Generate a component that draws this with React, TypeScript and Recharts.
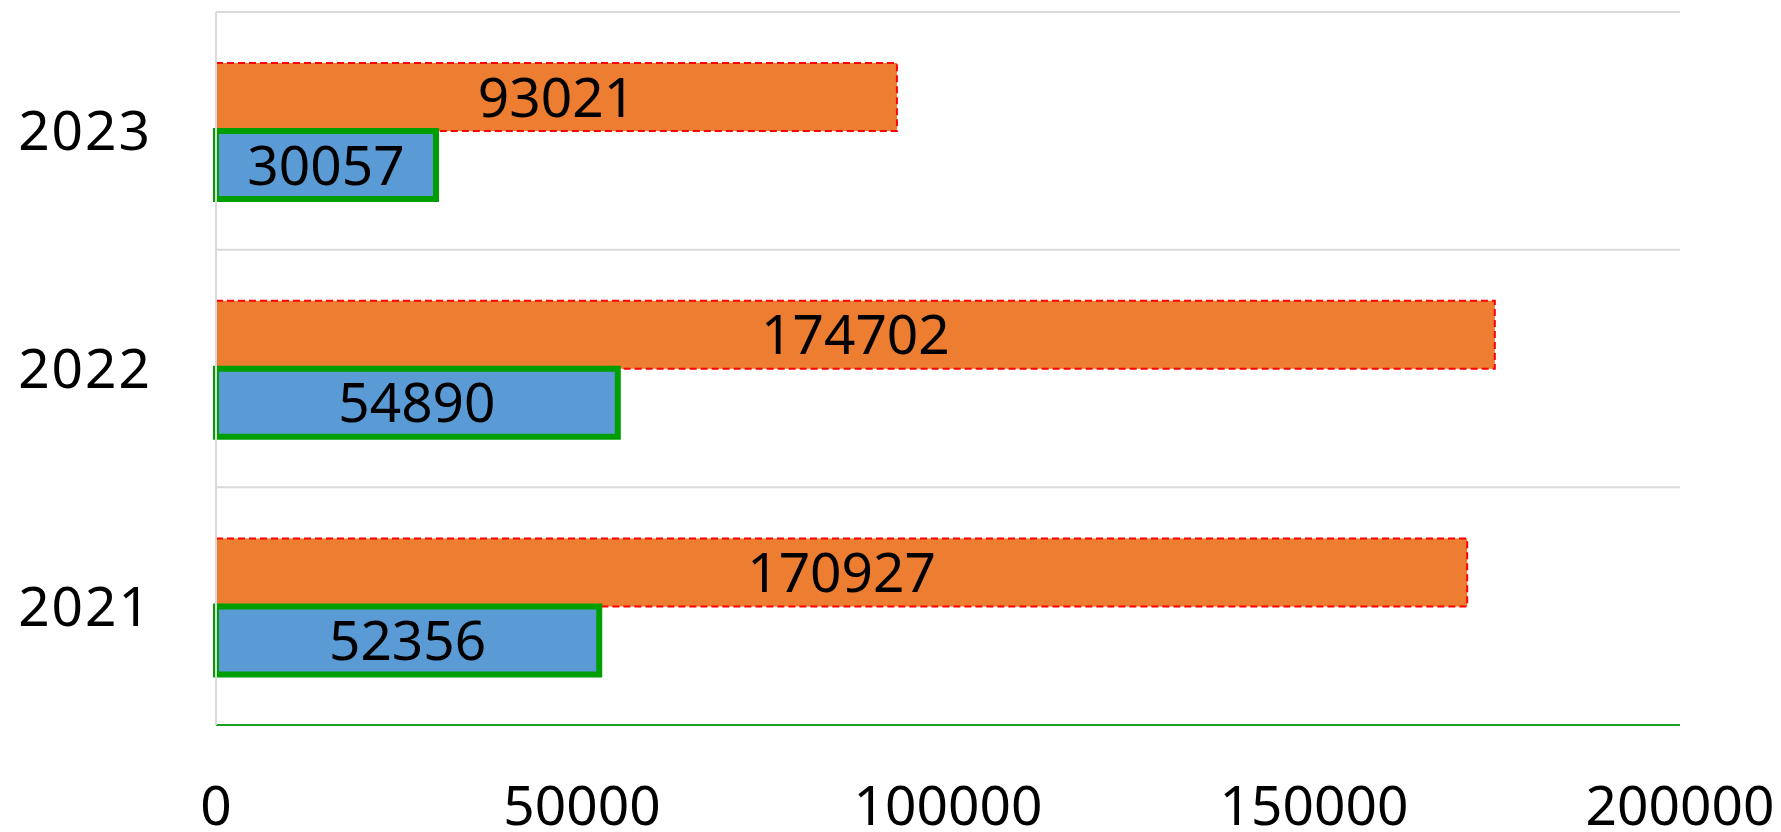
import { BarChart, Bar, XAxis, YAxis, CartesianGrid, LabelList } from 'recharts';

const years = ['2023', '2022', '2021'];
const orangeValues = [93021, 174702, 170927];
const blueValues = [30057, 54890, 52356];
const xTicks = [0, 50000, 100000, 150000, 200000];

const data = years.map((year, i) => ({
  year,
  orange: orangeValues[i],
  blue: blueValues[i],
}));

const font = '"Noto Sans", sans-serif';

export default function App() {
  return (
    <div style={{ position: 'absolute', left: 0, top: 0, background: '#fff' }}>
      <BarChart
        width={1781}
        height={832}
        data={data}
        layout="vertical"
        margin={{ top: 12, right: 101, bottom: 0, left: 0 }}
        barCategoryGap="21.5%"
        barGap={0}
      >
        <CartesianGrid
          vertical={false}
          stroke="#d9d9d9"
          strokeWidth={2}
          horizontalCoordinatesGenerator={({ offset }: any) =>
            [0, 1, 2, 3].map((i) => offset.top + (i * offset.height) / years.length)
          }
        />
        <XAxis
          type="number"
          domain={[0, 200000]}
          ticks={xTicks}
          interval={0}
          height={107}
          tickLine={false}
          tickSize={0}
          tickMargin={61}
          axisLine={{ stroke: '#20a020', strokeWidth: 2 }}
          tick={{ fill: '#000', fontSize: 55, fontFamily: font }}
        />
        <YAxis
          type="category"
          dataKey="year"
          width={216}
          tickLine={false}
          tickSize={0}
          tickMargin={64}
          axisLine={{ stroke: '#d9d9d9', strokeWidth: 2 }}
          tick={{ fill: '#000', fontSize: 55, fontFamily: font, letterSpacing: 2 }}
        />
        <Bar
          dataKey="orange"
          fill="#ed7d31"
          stroke="#ff0000"
          strokeWidth={2}
          strokeDasharray="7 4"
          isAnimationActive={false}
        >
          <LabelList dataKey="orange" position="center" fill="#000" fontSize={55} fontFamily={font} />
        </Bar>
        <Bar
          dataKey="blue"
          fill="#5b9bd5"
          stroke="#009e00"
          strokeWidth={6}
          isAnimationActive={false}
        >
          <LabelList dataKey="blue" position="center" fill="#000" fontSize={55} fontFamily={font} />
        </Bar>
      </BarChart>
    </div>
  );
}
